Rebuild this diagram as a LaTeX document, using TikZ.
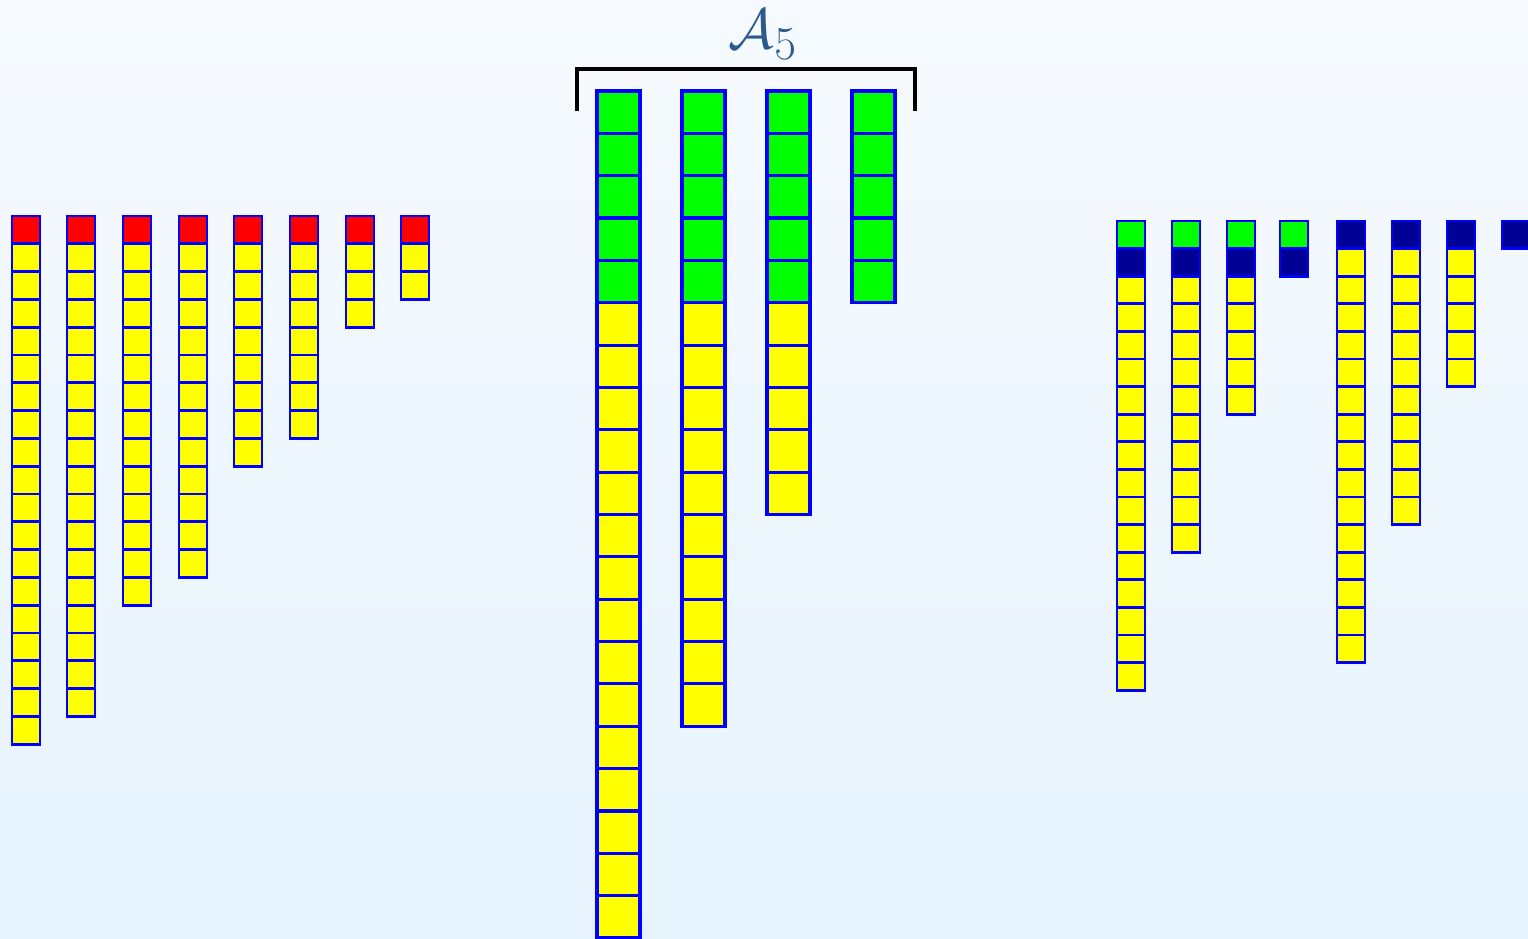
\documentclass[tikz,border=0pt]{standalone}
\usepackage{tikz}
\definecolor{bgtop}{HTML}{F6FAFE}
\definecolor{bgbot}{HTML}{E6F3FD}
\definecolor{edgeblue}{HTML}{0000FF}
\definecolor{cellred}{HTML}{FF0000}
\definecolor{cellyellow}{HTML}{FFFF00}
\definecolor{cellgreen}{HTML}{00FF00}
\definecolor{cellnavy}{HTML}{000094}
\definecolor{labelblue}{HTML}{2B5B8E}

\begin{document}
\begin{tikzpicture}[x=0.02cm,y=0.02cm,
    cell/.style={draw=edgeblue,line width=1.5pt},
    bigcell/.style={draw=edgeblue,line width=1.8pt}]
  \useasboundingbox (0,0) rectangle (1528,-938);
  \clip (0,0) rectangle (1528,-938);
  \shade[top color=bgtop,bottom color=bgbot] (0,0) rectangle (1528,-938);
  % left group: red head, yellow tail
  \foreach \x/\n in {12/19,67/18,123/14,179/13,234/9,290/8,346/4,401/3} {
    \foreach \k in {2,...,\n}
      \filldraw[cell,fill=cellyellow] (\x,{-216-(\k-1)*27.8}) rectangle ++(28,-27.8);
    \filldraw[cell,fill=cellred] (\x,-216) rectangle ++(28,-27.8);
  }
  % middle group
  \foreach \x/\n in {597/20,682/15,767/10}
    \foreach \k in {6,...,\n}
      \filldraw[bigcell,fill=cellyellow] (\x,{-91-(\k-1)*42.35}) rectangle ++(43,-42.35);
  \foreach \x in {597,682,767,852}
    \foreach \k in {1,...,5}
      \filldraw[bigcell,fill=cellgreen] (\x,{-91-(\k-1)*42.35}) rectangle ++(43,-42.35);
  % bracket and label
  \coordinate (bl) at (577,-111);
  \coordinate (br) at (915,-111);
  \coordinate (bt) at (915,-69);
  \draw[line width=2pt] (bl) |- (bt) -- (br);
  \node[labelblue,font=\Huge,scale=1.3,inner sep=0pt] (lab) at (763,-35) {$\mathcal{A}_5$};
  % right group
  \foreach \x/\n in {1117/17,1172/12,1227/7} {
    \foreach \k in {3,...,\n}
      \filldraw[cell,fill=cellyellow] (\x,{-221-(\k-1)*27.6}) rectangle ++(28,-27.6);
    \filldraw[cell,fill=cellnavy] (\x,-248.6) rectangle ++(28,-27.6);
    \filldraw[cell,fill=cellgreen] (\x,-221) rectangle ++(28,-27.6);
  }
  \filldraw[cell,fill=cellnavy] (1280,-248.6) rectangle ++(28,-27.6);
  \filldraw[cell,fill=cellgreen] (1280,-221) rectangle ++(28,-27.6);
  \foreach \x/\n in {1337/16,1392/11,1447/6} {
    \foreach \k in {2,...,\n}
      \filldraw[cell,fill=cellyellow] (\x,{-221-(\k-1)*27.6}) rectangle ++(28,-27.6);
    \filldraw[cell,fill=cellnavy] (\x,-221) rectangle ++(28,-27.6);
  }
  \filldraw[cell,fill=cellnavy] (1502,-221) rectangle ++(28,-27.6);
\end{tikzpicture}
\end{document}
